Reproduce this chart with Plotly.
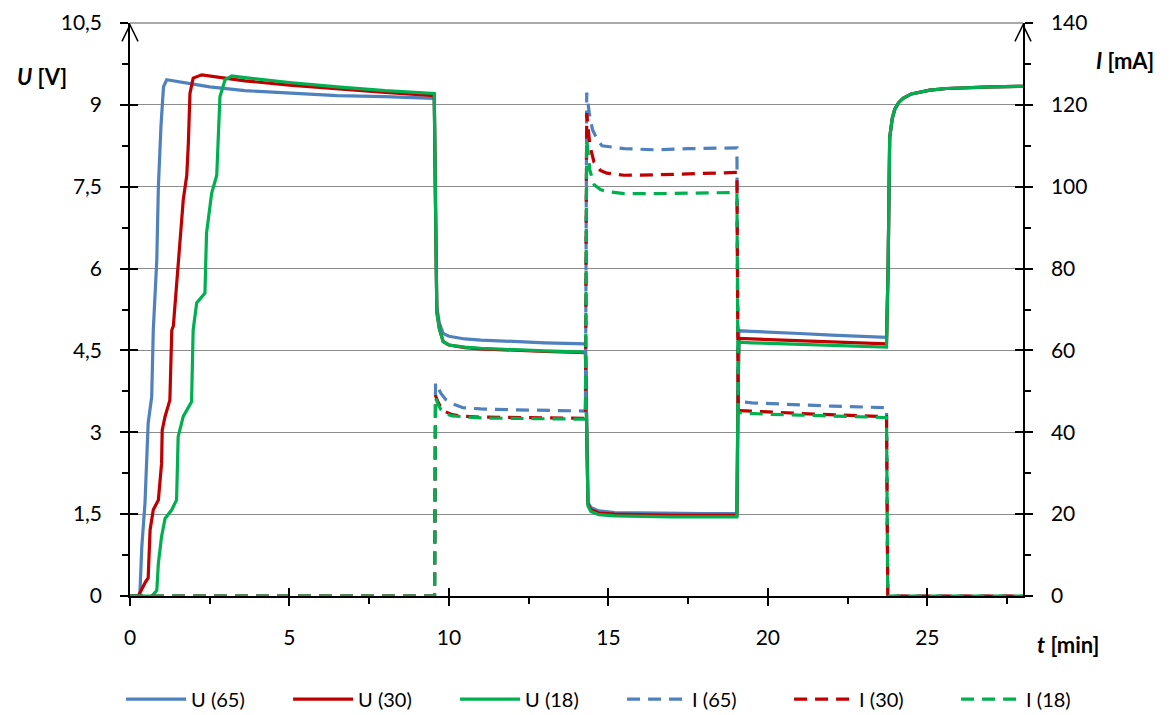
import plotly.graph_objects as go

# ---------------- data ----------------
t_u65 = [0, 0.28, 0.31, 0.37, 0.47, 0.57, 0.68, 0.73, 0.84, 0.89, 0.97, 1.05, 1.15, 1.62, 2.5, 3.6, 5, 6.5, 8,
         9.54, 9.58, 9.62, 9.7, 9.82, 10, 10.5, 11, 12, 13, 14.28, 14.32, 14.36, 14.45, 14.7, 15.2, 16, 17, 18,
         19.03, 19.06, 19.09, 19.5, 20, 21, 22, 23, 23.72, 23.77, 23.82, 23.9, 23.98, 24.1, 24.24, 24.5, 25.08,
         25.6, 26.3, 27, 28]
u65 = [0, 0, 0.05, 0.9, 1.7, 3.17, 3.65, 4.87, 6.16, 7.5, 8.6, 9.33, 9.46, 9.41, 9.33, 9.26, 9.21, 9.17, 9.15,
       9.12, 7.0, 5.3, 5.0, 4.81, 4.76, 4.71, 4.69, 4.66, 4.64, 4.62, 3.0, 1.72, 1.62, 1.56, 1.53, 1.52, 1.52, 1.51,
       1.51, 3.5, 4.86, 4.85, 4.84, 4.81, 4.78, 4.75, 4.74, 6.0, 8.4, 8.75, 8.92, 9.04, 9.12, 9.2, 9.27,
       9.3, 9.32, 9.33, 9.34]

t_u30 = [0, 0.26, 0.47, 0.57, 0.63, 0.73, 0.89, 0.99, 1.01, 1.1, 1.25, 1.31, 1.36, 1.51, 1.67, 1.78, 1.83, 1.88,
         1.98, 2.25, 3.6, 5, 6.5, 8, 9.54, 9.58, 9.62, 9.7, 9.82, 10, 10.5, 11, 12, 13, 14.28, 14.32, 14.36, 14.45,
         14.7, 15.2, 16, 17, 18, 19.03, 19.06, 19.09, 19.5, 20, 21, 22, 23, 23.72, 23.77, 23.82, 23.9, 23.98, 24.1,
         24.24, 24.5, 25.08, 25.6, 26.3, 27, 28]
u30 = [0, 0, 0.24, 0.33, 1.21, 1.58, 1.76, 2.43, 3.04, 3.29, 3.59, 4.87, 4.95, 6.03, 7.26, 7.71, 8.3, 9.21,
       9.49, 9.55, 9.44, 9.36, 9.29, 9.23, 9.17, 7.0, 5.2, 4.9, 4.66, 4.6, 4.55, 4.53, 4.5, 4.48, 4.46, 3.0, 1.68, 1.58,
       1.52, 1.5, 1.49, 1.48, 1.48, 1.48, 3.5, 4.72, 4.71, 4.7, 4.67, 4.65, 4.63, 4.62, 6.0, 8.4, 8.75, 8.92, 9.04,
       9.12, 9.2, 9.27, 9.3, 9.32, 9.33, 9.34]

t_u18 = [0, 0.68, 0.84, 0.89, 0.99, 1.1, 1.31, 1.46, 1.51, 1.67, 1.93, 1.98, 2.09, 2.35, 2.4, 2.56, 2.72, 2.77,
         2.82, 2.98, 3.19, 3.6, 5, 6.5, 8, 9.54, 9.58, 9.62, 9.7, 9.82, 10, 10.5, 11, 12, 13, 14.28, 14.32, 14.36,
         14.45, 14.7, 15.2, 16, 17, 18, 19.03, 19.06, 19.09, 19.5, 20, 21, 22, 23, 23.72, 23.77, 23.82, 23.9, 23.98,
         24.1, 24.24, 24.5, 25.08, 25.6, 26.3, 27, 28]
u18 = [0, 0, 0.1, 0.6, 1.09, 1.42, 1.58, 1.76, 2.92, 3.29, 3.56, 4.87, 5.37, 5.55, 6.65, 7.38, 7.71, 8.6,
       9.15, 9.46, 9.53, 9.5, 9.41, 9.33, 9.26, 9.21, 7.0, 5.2, 4.9, 4.66, 4.6, 4.56, 4.54, 4.51, 4.49, 4.47, 3.0, 1.65,
       1.55, 1.49, 1.47, 1.46, 1.45, 1.45, 1.45, 3.5, 4.65, 4.64, 4.63, 4.61, 4.59, 4.57, 4.56, 6.0, 8.4, 8.75, 8.92,
       9.04, 9.12, 9.2, 9.27, 9.3, 9.32, 9.33, 9.34]

t_i65 = [0, 9.55, 9.58, 9.65, 9.75, 9.9, 10.1, 10.44, 11, 12, 13, 14.28, 14.32, 14.4, 14.5, 14.65, 14.8, 15.5,
         16.5, 17.5, 19.03, 19.07, 19.5, 20, 21, 22, 23, 23.72, 23.76, 28]
i65 = [0, 0, 52, 51, 49.5, 48, 47, 46, 45.7, 45.5, 45.3, 45.2, 123, 118, 114, 111.5, 110, 109.3, 109, 109.3,
       109.5, 47.5, 47.2, 47, 46.7, 46.4, 46.1, 46, 0, 0]

t_i30 = [0, 9.55, 9.58, 9.65, 9.75, 9.9, 10.1, 10.5, 11, 12, 13, 14.28, 14.32, 14.42, 14.55, 14.75, 14.95, 15.5,
         16.5, 17.5, 19.03, 19.07, 19.5, 20, 21, 22, 23, 23.72, 23.76, 28]
i30 = [0, 0, 49, 47.5, 46, 45, 44.3, 43.9, 43.7, 43.6, 43.5, 43.4, 118, 110, 106, 104, 103.3, 102.8, 102.9, 103.2,
       103.5, 45.3, 45.1, 45, 44.6, 44.3, 44, 43.8, 0, 0]

t_i18 = [0, 9.55, 9.58, 9.65, 9.75, 9.9, 10.1, 10.5, 11, 12, 13, 14.28, 14.32, 14.42, 14.55, 14.75, 14.95, 15.5,
         16.5, 17.5, 19.03, 19.07, 19.5, 20, 21, 22, 23, 23.72, 23.76, 28]
i18 = [0, 0, 48.5, 47, 45.5, 44.5, 44, 43.7, 43.5, 43.4, 43.3, 43.2, 111.5, 104, 100.5, 99.3, 98.8, 98.3, 98.3,
       98.4, 98.6, 44.8, 44.6, 44.4, 44.2, 44, 43.8, 43.6, 0, 0]

x_ticks = [0, 5, 10, 15, 20, 25]
x_tick_labels = ["0", "5", "10", "15", "20", "25"]
u_ticks = [0, 1.5, 3, 4.5, 6, 7.5, 9, 10.5]
u_tick_labels = ["0", "1,5", "3", "4,5", "6", "7,5", "9", "10,5"]
i_ticks = [0, 20, 40, 60, 80, 100, 120, 140]
i_tick_labels = ["0", "20", "40", "60", "80", "100", "120", "140"]

names = ["U (65)", "U (30)", "U (18)", "I (65)", "I (30)", "I (18)"]
colors = ["#4F81BD", "#C00000", "#00B050", "#4F81BD", "#C00000", "#00B050"]

# ---------------- figure ----------------
FONT = "Lato"
GRID = "#8C8C8C"
fig = go.Figure()
u_series = [(t_u65, u65), (t_u30, u30), (t_u18, u18)]
i_series = [(t_i65, i65), (t_i30, i30), (t_i18, i18)]
for k, (tx, vy) in enumerate(u_series):
    fig.add_trace(go.Scatter(x=tx, y=vy, mode="lines", name=names[k],
                             line=dict(color=colors[k], width=3.2)))
for k, (tx, vy) in enumerate(i_series):
    fig.add_trace(go.Scatter(x=tx, y=vy, mode="lines", name=names[k + 3], yaxis="y2",
                             line=dict(color=colors[k + 3], width=3.2, dash="13px,8px")))
# carriers for the inner halves of the crossing ticks
fig.add_trace(go.Scatter(x=[], y=[], xaxis="x2", yaxis="y3", showlegend=False, hoverinfo="skip"))
fig.add_trace(go.Scatter(x=[], y=[], xaxis="x2", yaxis="y4", showlegend=False, hoverinfo="skip"))

tick_common = dict(tickcolor="black", tickwidth=1.5)
fig.update_layout(
    width=1167, height=707,
    margin=dict(l=122, r=152, t=15, b=119, autoexpand=False),
    paper_bgcolor="white", plot_bgcolor="white",
    font=dict(family=FONT, size=21, color="black"),
    showlegend=True,
    legend=dict(orientation="h", xref="paper", x=-0.010, xanchor="left",
                yref="paper", y=-0.18, yanchor="middle",
                itemwidth=60, entrywidth=92, entrywidthmode="pixels",
                font=dict(size=20, family=FONT), bgcolor="rgba(0,0,0,0)"),
    xaxis=dict(range=[0, 28], tickmode="array", tickvals=x_ticks, ticktext=x_tick_labels,
               ticks="outside", ticklen=8, showline=True, linecolor="black", linewidth=1.5,
               showgrid=False, zeroline=False, ticklabelstandoff=14, automargin=False,
               minor=dict(dtick=2.5, tick0=0, ticks="outside", ticklen=6, tickcolor="black",
                          tickwidth=1.5, showgrid=False), **tick_common),
    xaxis2=dict(overlaying="x", anchor="y", side="bottom", range=[0, 28], tickmode="array",
                tickvals=x_ticks, ticks="inside", ticklen=8, showticklabels=False, automargin=False,
                showline=False, showgrid=False, zeroline=False, **tick_common),
    yaxis=dict(range=[0, 10.5], tickmode="array", tickvals=u_ticks, ticktext=u_tick_labels,
               ticks="outside", ticklen=8, showline=True, linecolor="black", linewidth=1.5,
               showgrid=True, gridcolor=GRID, gridwidth=1.3, zeroline=False,
               ticklabelstandoff=14, automargin=False,
               minor=dict(dtick=0.75, tick0=0, ticks="outside", ticklen=6, tickcolor="black",
                          tickwidth=1.5, showgrid=False), **tick_common),
    yaxis2=dict(overlaying="y", side="right", anchor="x", range=[0, 140], tickmode="array",
                tickvals=i_ticks, ticktext=i_tick_labels, ticks="outside", ticklen=8,
                showline=True, linecolor="black", linewidth=1.5, showgrid=False, zeroline=False,
                ticklabelstandoff=14, automargin=False,
                minor=dict(dtick=10, tick0=0, ticks="outside", ticklen=6, tickcolor="black",
                           tickwidth=1.5, showgrid=False), **tick_common),
    yaxis3=dict(overlaying="y", side="left", anchor="x2", range=[0, 10.5], tickmode="array",
                tickvals=u_ticks, ticks="inside", ticklen=8, showticklabels=False, automargin=False,
                showline=False, showgrid=False, zeroline=False, **tick_common),
    yaxis4=dict(overlaying="y", side="right", anchor="x2", range=[0, 140], tickmode="array",
                tickvals=i_ticks, ticks="inside", ticklen=8, showticklabels=False, automargin=False,
                showline=False, showgrid=False, zeroline=False, **tick_common),
)

# top gridline (10,5) and axis arrows
fig.add_shape(type="line", xref="paper", yref="paper", x0=0, x1=1, y0=1, y1=1,
              line=dict(color=GRID, width=1.3), layer="below")
for xa in (0, 1):
    fig.add_shape(type="path", xref="paper", yref="paper",
                  path=f"M {xa - 0.009},0.968 L {xa},0.9965 L {xa + 0.009},0.968",
                  line=dict(color="black", width=1.5))

# axis titles
ann = dict(xref="paper", yref="paper", showarrow=False, xanchor="center", yanchor="middle",
           font=dict(size=22, family=FONT))
fig.add_annotation(text="<b><i>U</i> [V]</b>", x=-0.0985, y=0.906, **ann)
fig.add_annotation(text="<b><i>I</i> [mA]</b>", x=1.114, y=0.935, **ann)
fig.add_annotation(text="<b><i>t</i> [min]</b>", x=1.0504, y=-0.0855, **ann)

fig.write_html("out.html")
